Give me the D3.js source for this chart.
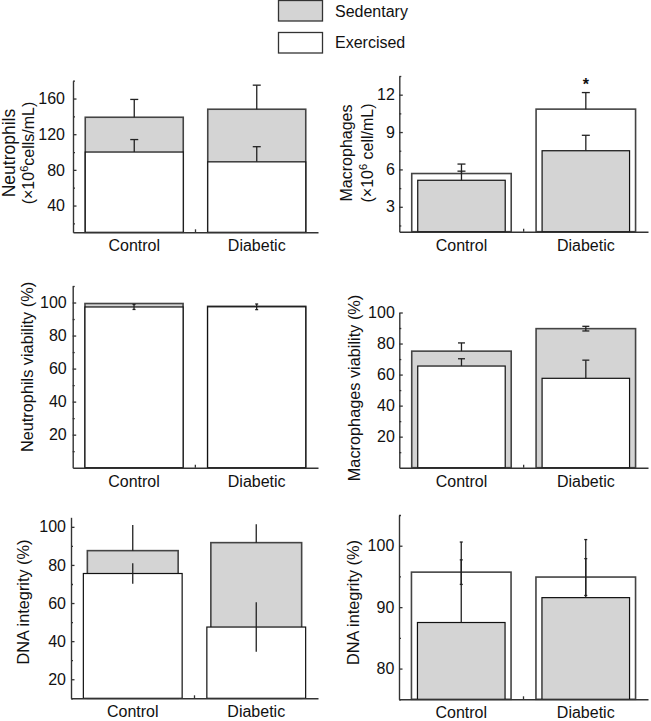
<!DOCTYPE html>
<html>
<head>
<meta charset="utf-8">
<script src="https://cdn.jsdelivr.net/npm/d3@7"></script>
<style>
body { margin: 0; background: #fff; }
text { font-family: "Liberation Sans", Arial, sans-serif; fill: #111; }
</style>
</head>
<body>
<div id="chart"></div>
<script>
var categories = ["Control", "Diabetic"];
var legendLabels = ["Sedentary", "Exercised"];

// neutrophils count
var neutroSed = [139, 148], neutroSedErr = [20, 27], neutroSedDown = [0, 0];
var neutroEx = [100, 89], neutroExErr = [14, 17], neutroExDown = [0, 0];
var neutroTicks = [40, 80, 120, 160];

// macrophages count
var macroSed = [5.13, 7.5], macroSedErr = [0.73, 1.24], macroSedDown = [0, 0];
var macroEx = [5.67, 10.84], macroExErr = [0.76, 1.33], macroExDown = [0, 0];
var macroTicks = [3, 6, 9, 12];

// neutrophils viability
var nViaSed = [99.4, 97.7], nViaSedErr = [0, 0], nViaSedDown = [0, 0];
var nViaEx = [97.3, 97.4], nViaExErr = [1.5, 1.7], nViaExDown = [1.5, 1.7];
var nViaTicks = [20, 40, 60, 80, 100];

// macrophages viability
var mViaSed = [75.1, 89.6], mViaSedErr = [5.3, 1.5], mViaSedDown = [0, 1.5];
var mViaEx = [65.5, 57.6], mViaExErr = [4.7, 11.7], mViaExDown = [0, 0];
var mViaTicks = [20, 40, 60, 80, 100];

// DNA integrity (left)
var dnaNSed = [87.5, 91.7], dnaNSedErr = [13.4, 9.7], dnaNSedDown = [0, 0];
var dnaNEx = [75.5, 47.4], dnaNExErr = [5.4, 13], dnaNExDown = [5.4, 13];
var dnaNTicks = [20, 40, 60, 80, 100];

// DNA integrity (right)
var dnaMSed = [87.5, 91.55], dnaMSedErr = [13.1, 9.45], dnaMSedDown = [0, 0];
var dnaMEx = [95.7, 94.9], dnaMExErr = [2, 3], dnaMExDown = [2, 3];
var dnaMTicks = [80, 90, 100];

var fill = {sed: "#d4d4d4", ex: "#ffffff"};

var svg = d3.select("#chart").append("svg")
  .attr("width", 651)
  .attr("height", 721);

// panel layout
var panels = [
  {sed: neutroSed, sedErr: neutroSedErr, sedDown: neutroSedDown, ex: neutroEx, exErr: neutroExErr, exDown: neutroExDown,
   ticks: neutroTicks, domain: [10, 180], x0: 73, x1: 318, yTop: 80.7, yBot: 232.3,
   back: "sed", backInset: 0, frontInset: 0, cap: 4, pad: 8,
   label: ["Neutrophils", "(×10^6cells/mL)"], labelSize: [17.5, 16], labelX: [15, 33.5], labelY: 153},
  {sed: macroSed, sedErr: macroSedErr, sedDown: macroSedDown, ex: macroEx, exErr: macroExErr, exDown: macroExDown,
   ticks: macroTicks, domain: [1, 13.5], x0: 399.3, x1: 648, yTop: 76, yBot: 231.7,
   back: "ex", backInset: 0, frontInset: 6, cap: 4, pad: 4.5,
   label: ["Macrophages", "(×10^6 cell/mL)"], labelSize: [16, 16], labelX: [352, 373], labelY: 153, star: 1},
  {sed: nViaSed, sedErr: nViaSedErr, sedDown: nViaSedDown, ex: nViaEx, exErr: nViaExErr, exDown: nViaExDown,
   ticks: nViaTicks, domain: [0, 110], x0: 72.7, x1: 318, yTop: 286, yBot: 467.7,
   back: "sed", backInset: 0, frontInset: 0, cap: 1.5, pad: 6,
   label: ["Neutrophils viability (%)"], labelSize: [16.3], labelX: [33], labelY: 367},
  {sed: mViaSed, sedErr: mViaSedErr, sedDown: mViaSedDown, ex: mViaEx, exErr: mViaExErr, exDown: mViaExDown,
   ticks: mViaTicks, domain: [0, 100], x0: 399.3, x1: 648, yTop: 312.5, yBot: 467.7,
   back: "sed", backInset: 0, frontInset: 6, cap: 3.5, pad: 4.5,
   label: ["Macrophages viability (%)"], labelSize: [16.3], labelX: [360], labelY: 388},
  {sed: dnaNSed, sedErr: dnaNSedErr, sedDown: dnaNSedDown, ex: dnaNEx, exErr: dnaNExErr, exDown: dnaNExDown,
   ticks: dnaNTicks, domain: [10, 105], x0: 71, x1: 318, yTop: 517.3, yBot: 698.3,
   back: "sed", backInset: 4, frontInset: 0, cap: 0, pad: 5,
   label: ["DNA integrity (%)"], labelSize: [16.3], labelX: [28.5], labelY: 602},
  {sed: dnaMSed, sedErr: dnaMSedErr, sedDown: dnaMSedDown, ex: dnaMEx, exErr: dnaMExErr, exDown: dnaMExDown,
   ticks: dnaMTicks, domain: [75, 105], x0: 399, x1: 648, yTop: 515, yBot: 699.3,
   back: "ex", backInset: 0, frontInset: 6, cap: 1.5, pad: 4.7,
   label: ["DNA integrity (%)"], labelSize: [16.3], labelX: [358.5], labelY: 602.5}
];

panels.forEach(function(p) {
  var g = svg.append("g");

  var x = d3.scaleBand()
    .domain(categories)
    .range([p.x0, p.x1])
    .paddingInner(0.2)
    .paddingOuter(0.1);
  var y = d3.scaleLinear()
    .domain(p.domain)
    .range([p.yBot, p.yTop]);

  var rows = categories.map(function(c, i) {
    return {cat: c,
      sed: p.sed[i], sedErr: p.sedErr[i], sedDown: p.sedDown[i],
      ex: p.ex[i], exErr: p.exErr[i], exDown: p.exDown[i]};
  });
  var backKey = p.back, frontKey = p.back == "sed" ? "ex" : "sed";

  // bars: back series then front series
  [[backKey, p.backInset, "#444", 1.6], [frontKey, p.frontInset, "#111", 1.2]].forEach(function(s) {
    var key = s[0], inset = s[1];
    g.selectAll(".bar-" + key)
      .data(rows)
      .enter()
      .append("rect")
        .attr("x", function(d) { return x(d.cat) + inset; })
        .attr("width", x.bandwidth() - 2 * inset)
        .attr("y", function(d) { return y(d[key]); })
        .attr("height", function(d) { return y(p.domain[0]) - y(d[key]); })
        .attr("fill", fill[key])
        .attr("stroke", s[2])
        .attr("stroke-width", s[3]);
  });

  // error bars
  ["sed", "ex"].forEach(function(key) {
    rows.forEach(function(d) {
      var up = d[key + "Err"], down = d[key + "Down"];
      if (!up && !down) return;
      var cx = x(d.cat) + x.bandwidth() / 2;
      var top = y(d[key] + up), bot = y(d[key] - down);
      g.append("line")
        .attr("x1", cx).attr("x2", cx)
        .attr("y1", top).attr("y2", bot)
        .attr("stroke", "#222").attr("stroke-width", 1.3);
      if (p.cap > 0) {
        g.append("line")
          .attr("x1", cx - p.cap).attr("x2", cx + p.cap)
          .attr("y1", top).attr("y2", top)
          .attr("stroke", "#222").attr("stroke-width", 1.3);
        if (down) {
          g.append("line")
            .attr("x1", cx - p.cap).attr("x2", cx + p.cap)
            .attr("y1", bot).attr("y2", bot)
            .attr("stroke", "#222").attr("stroke-width", 1.3);
        }
      }
      if (p.star && key == "ex" && d.cat == "Diabetic") {
        g.append("text")
          .attr("x", cx)
          .attr("y", top - 2.5)
          .attr("text-anchor", "middle")
          .style("font-size", "16px")
          .style("font-weight", "bold")
          .text("*");
      }
    });
  });

  // y axis, major + minor ticks
  var step = p.ticks[1] - p.ticks[0];
  var start = p.ticks[0] - step / 2;
  while (start - step >= p.domain[0] - 1e-9) start -= step;
  var minor = d3.range(start, p.domain[1] + 1e-9, step);

  g.append("g")
    .attr("transform", "translate(" + p.x0 + ",0)")
    .call(d3.axisLeft(y).tickValues(minor).tickSize(-2).tickSizeOuter(0).tickFormat(""))
    .call(function(a) { a.select(".domain").remove(); })
    .selectAll("line").attr("stroke", "#333").attr("stroke-width", 1.3);

  var ya = g.append("g")
    .attr("transform", "translate(" + p.x0 + ",0)")
    .call(d3.axisLeft(y).tickValues(p.ticks).tickSize(-3.5).tickSizeOuter(0).tickPadding(p.pad).tickFormat(d3.format("d")));
  ya.select(".domain").attr("stroke", "#333").attr("stroke-width", 1.4);
  ya.selectAll("line").attr("stroke", "#333").attr("stroke-width", 1.3);
  ya.selectAll("text")
    .style("font-size", "16px")
    .style("font-family", "Liberation Sans, Arial, sans-serif")
    .attr("fill", "#111");

  // x axis
  var xa = g.append("g")
    .attr("transform", "translate(0," + p.yBot + ")")
    .call(d3.axisBottom(x).tickSize(0).tickSizeOuter(0).tickPadding(7.6));
  xa.select(".domain").attr("stroke", "#333").attr("stroke-width", 1.4);
  xa.selectAll("text")
    .style("font-size", "16px")
    .style("font-family", "Liberation Sans, Arial, sans-serif")
    .attr("fill", "#111");
  var sep = p.x0 + x.step() * (1 + x.paddingOuter()) - x.step() * x.paddingInner() / 2;
  g.append("line")
    .attr("x1", sep).attr("x2", sep)
    .attr("y1", p.yBot).attr("y2", p.yBot - 3)
    .attr("stroke", "#333").attr("stroke-width", 1.3);

  // y label
  p.label.forEach(function(line, i) {
    var t = g.append("text")
      .attr("transform", "translate(" + p.labelX[i] + "," + p.labelY + ") rotate(-90)")
      .attr("text-anchor", "middle")
      .style("font-size", p.labelSize[i] + "px");
    var parts = line.split("^");
    t.append("tspan").text(parts[0]);
    if (parts.length > 1) {
      t.append("tspan").attr("dy", -6).style("font-size", "11px").text(parts[1].charAt(0));
      t.append("tspan").attr("dy", 6).text(parts[1].slice(1));
    }
  });
});

// legend
var legend = svg.append("g");
legendLabels.forEach(function(name, i) {
  var key = i == 0 ? "sed" : "ex";
  legend.append("rect")
    .attr("x", 278.5).attr("y", 0.5 + i * 32)
    .attr("width", 44).attr("height", 20.5)
    .attr("fill", fill[key])
    .attr("stroke", "#333").attr("stroke-width", 1.3);
  legend.append("text")
    .attr("x", 335).attr("y", 17.4 + i * 31)
    .style("font-size", "16px")
    .text(name);
});
</script>
</body>
</html>
